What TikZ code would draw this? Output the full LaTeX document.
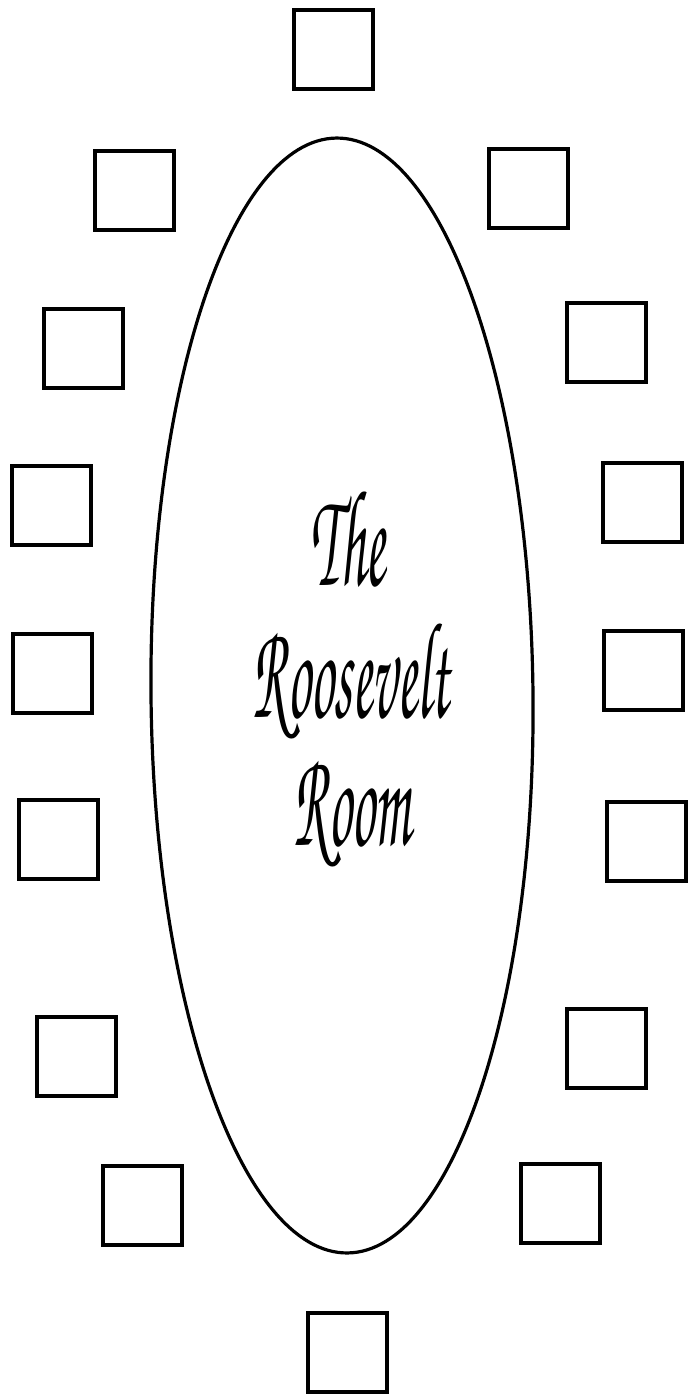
\documentclass[tikz,border=0pt]{standalone}
\newcommand{\tallword}[1]{\scalebox{0.63}[1.5]{#1}}
\tikzset{
    chair/.style={draw, line width=4pt, inner sep=0pt,
        minimum width=79pt, minimum height=79pt},
    label/.style={anchor=base, inner sep=0pt,
        font=\fontencoding{T1}\fontfamily{pzc}\fontsize{92}{92}\selectfont}
}
\begin{document}
\begin{tikzpicture}[x=1pt, y=-1pt]
    \useasboundingbox (0,0) rectangle (689,1396);

    \draw[line width=3.2pt, rotate around={0.57:(342,695.5)}]
        (342,695.5) ellipse [x radius=191, y radius=557.5];

    \foreach \n/\x/\y in {
        top/333/50, l1/134/190.5, r1/528/188.5,
        l2/83/348.5, r2/606.5/342.5, l3/51.5/505, r3/642.5/502.5,
        l4/52.5/673.5, r4/643/670, l5/58.5/839.5, r5/646/841,
        l6/76.5/1056.5, r6/606/1048, l7/142/1205, r7/560/1203.5,
        bottom/347.5/1352
    } {
        \node[chair] (\n) at (\x,\y) {};
    }

    \node[label] (the) at (348,585) {\tallword{The}};
    \node[label] (roosevelt) at (351,717) {\tallword{Roosevelt}};
    \node[label] (room) at (352,845) {\tallword{Room}};
\end{tikzpicture}
\end{document}
